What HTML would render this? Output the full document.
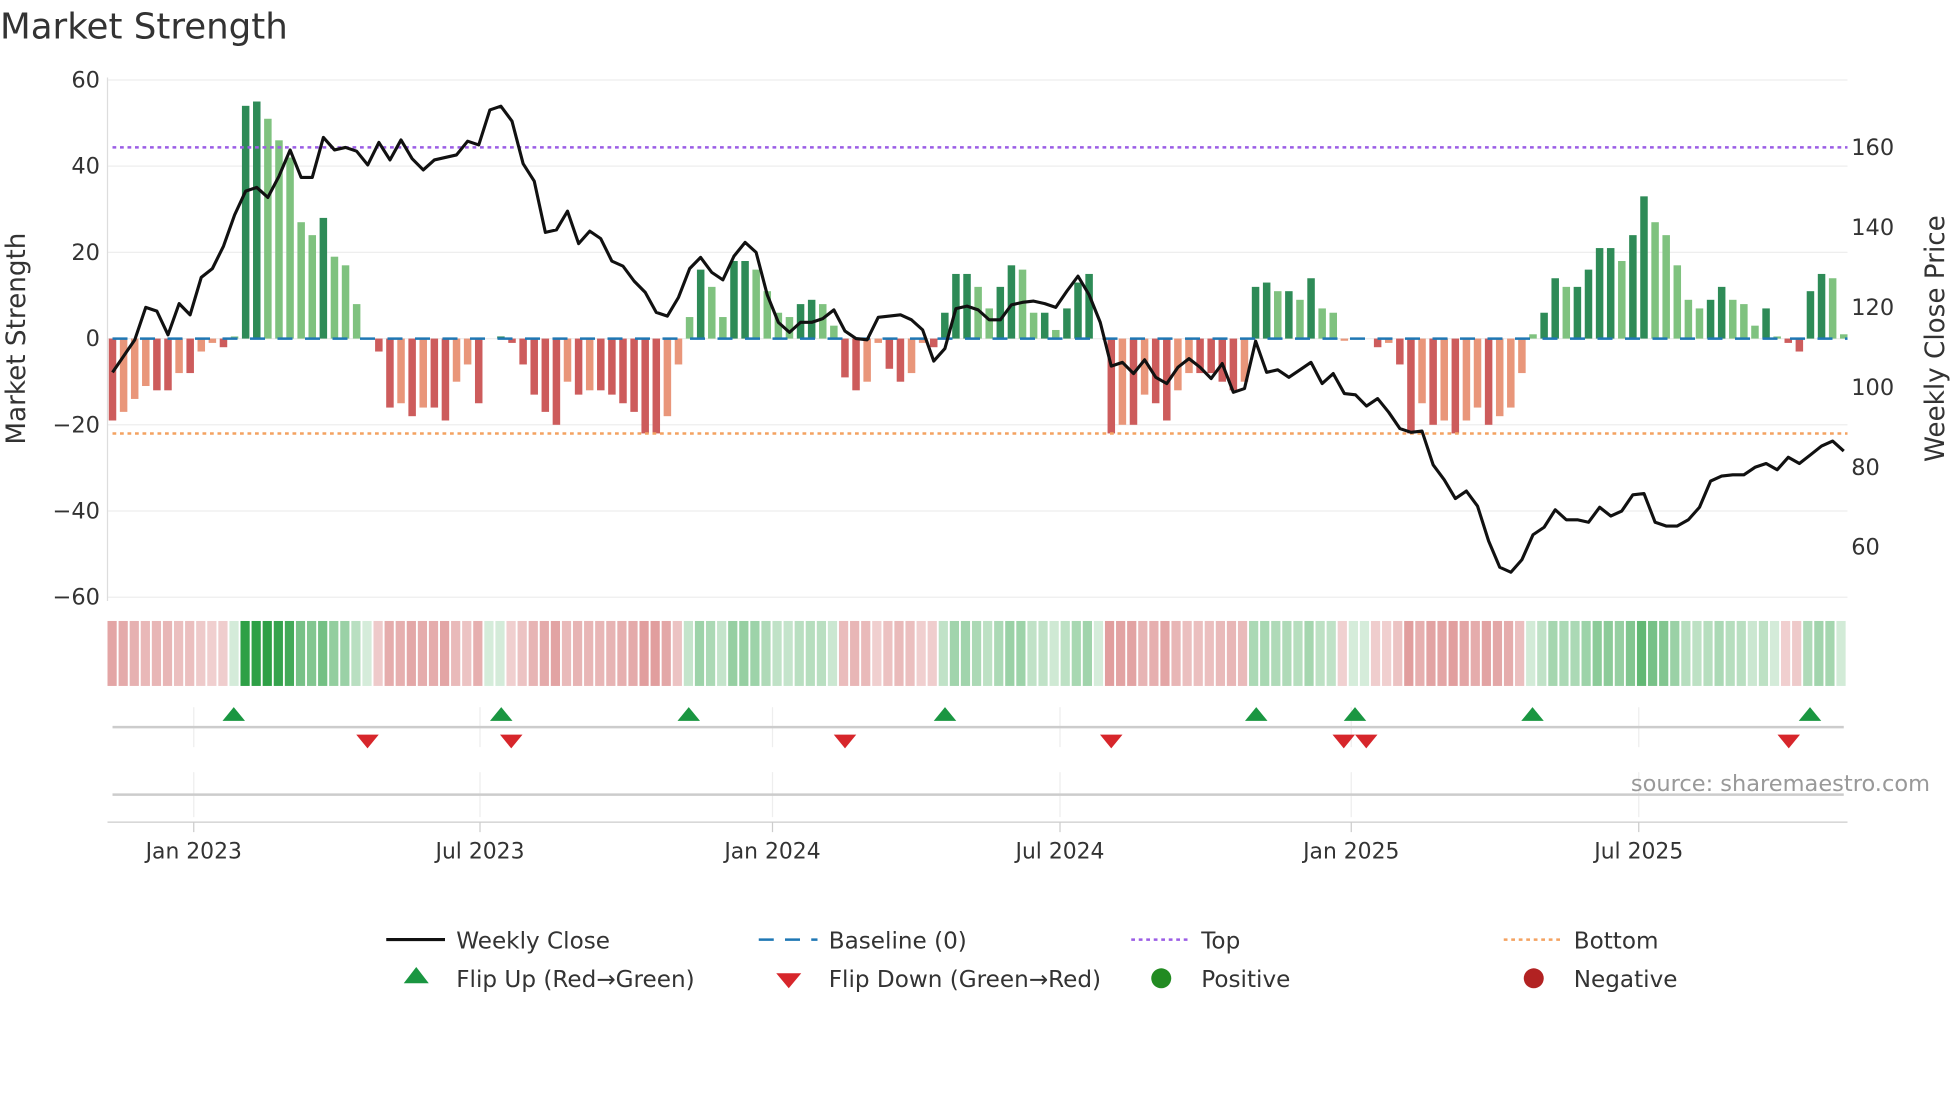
<!DOCTYPE html>
<html><head><meta charset="utf-8"><style>
html,body{margin:0;padding:0;background:#fff;width:1960px;height:1102px;overflow:hidden}
svg{display:block}
text{font-family:"DejaVu Sans","Liberation Sans",sans-serif}
</style></head><body>
<svg id="s" width="1960" height="1102" viewBox="0 0 1568 882" preserveAspectRatio="none" xmlns="http://www.w3.org/2000/svg"></svg>
<script>
const V=[-19,-17,-14,-11,-12,-12,-8,-8,-3,-1,-2,0.5,54,55,51,46,42,27,24,28,19,17,8,0,-3,-16,-15,-18,-16,-16,-19,-10,-6,-15,0,0.5,-1,-6,-13,-17,-20,-10,-13,-12,-12,-13,-15,-17,-22,-22,-18,-6,5,16,12,5,18,18,16,11,6,5,8,9,8,3,-9,-12,-10,-1,-7,-10,-8,-1,-2,6,15,15,12,7,12,17,16,6,6,2,7,13,15,0,-22,-20,-20,-13,-15,-19,-12,-8,-8,-8,-10,-12,-10,12,13,11,11,9,14,7,6,-0.5,0,0,-2,-1,-6,-22,-15,-20,-19,-22,-19,-16,-20,-18,-16,-8,1,6,14,12,12,16,21,21,18,24,33,27,24,17,9,7,9,12,9,8,3,7,0.5,-1,-3,11,15,14,1];
const P=[298,285,272,246,249,268,243,252,222,215,197,172,153,150,158,141,120,142,142,110,120,118,121,132,114,128,112,127,136,128,126,124,113,116,88,85,97,131,145,186,184,169,195,185,191,209,213,225,234,250,253,238,215,206,218,224,205,194,202,236,258,266,258,258,255,248,265,271,272,254,253,252,256,264,289,279,247,245,248,256,256,244,242,241,243,246,233,221,236,258,293,290,299,288,302,307,294,287,294,303,291,314,311,273,298,296,302,296,290,307,299,315,316,325,319,330,343,346,345,372,384,399,393,405,433,454,458,448,428,422,408,416,416,418,406,413,409,396,395,418,421,421,416,406,385,381,380,380,374,371,376,366,371,364,357,353,361];
const n=V.length, x0=90, st=(1475-90)/(n-1);
let h='';
const T=(x,y,t,o)=>`<text x="${x}" y="${y}" ${o||''}>${t}</text>`;
h+=T(0,31,'Market Strength','font-size="28.5" fill="#333"');
[60,40,20,0,-20,-40,-60].forEach(v=>{const y=271-v*3.45;h+=`<line x1="86" x2="1478" y1="${y}" y2="${y}" stroke="#eee" stroke-width="1"/>`;h+=T(80,y+6,v<0?'−'+(-v):v,'font-size="18" fill="#333" text-anchor="end"');});
[160,140,120,100,80,60].forEach(v=>{const y=118+(160-v)*3.2;h+=T(1481,y+6,v,'font-size="18" fill="#333"');});
h+=`<line x1="86" x2="86" y1="62" y2="481" stroke="#ddd"/>`;
h+=T(0,0,'Market Strength','font-size="21" fill="#333" text-anchor="middle" transform="translate(20,271) rotate(-90)"');
h+=T(0,0,'Weekly Close Price','font-size="21" fill="#333" text-anchor="middle" transform="translate(1555,271) rotate(-90)"');
for(let i=0;i<n;i++){const v=V[i],p=i?Math.abs(V[i-1]):0,dk=Math.abs(v)>=p;const x=x0+i*st-3;
let c=v>=0?(dk?'#2e8b57':'#7fc27f'):(dk?'#cd5c5c':'#e9967a');
const y=v>=0?271-v*3.45:271;h+=`<rect x="${x}" y="${y}" width="6" height="${Math.abs(v)*3.45}" fill="${c}"/>`;
const a=Math.min(1,0.2+Math.abs(v)/60);const hc=v>=0?`rgba(46,160,70,${a})`:`rgba(200,80,80,${a*0.8+0.1})`;
h+=`<rect x="${86+i*(1392/n)}" y="497" width="${1392/n-1.5}" height="52" fill="${hc}"/>`;}
h+=`<line x1="90" x2="1478" y1="271" y2="271" stroke="#1f77b4" stroke-width="2" stroke-dasharray="12,10"/>`;
h+=`<line x1="90" x2="1478" y1="118" y2="118" stroke="#9b5de5" stroke-width="2" stroke-dasharray="3,3"/>`;
h+=`<line x1="90" x2="1478" y1="347" y2="347" stroke="#f4a261" stroke-width="2" stroke-dasharray="3,3"/>`;
h+=`<polyline fill="none" stroke="#111" stroke-width="2.5" stroke-linejoin="round" points="${P.map((y,i)=>(x0+i*st).toFixed(1)+','+y).join(' ')}"/>`;
const mx=[[155,'Jan 2023'],[384,'Jul 2023'],[618,'Jan 2024'],[848,'Jul 2024'],[1081,'Jan 2025'],[1311,'Jul 2025']];
mx.forEach(([x,t])=>{h+=`<line x1="${x}" x2="${x}" y1="566" y2="598" stroke="#eee"/><line x1="${x}" x2="${x}" y1="618" y2="654" stroke="#eee"/><line x1="${x}" x2="${x}" y1="658" y2="666" stroke="#ccc"/>`;h+=T(x,687,t,'font-size="17.5" fill="#333" text-anchor="middle"');});
h+=`<line x1="90" x2="1475" y1="582" y2="582" stroke="#ccc" stroke-width="2"/><line x1="90" x2="1475" y1="636" y2="636" stroke="#ccc" stroke-width="2"/><line x1="86" x2="1478" y1="658" y2="658" stroke="#ccc"/>`;
[187,401,551,756,1005,1084,1226,1448].forEach(x=>h+=`<polygon points="${x-9},577 ${x+9},577 ${x},566" fill="#1a9641"/>`);
[294,409,676,889,1075,1093,1431].forEach(x=>h+=`<polygon points="${x-9},588 ${x+9},588 ${x},599" fill="#d7262b"/>`);
h+=T(1544,633,'source: sharemaestro.com','font-size="18" fill="#999" text-anchor="end"');
const L='font-size="18.5" fill="#333"';
h+=`<line x1="309" x2="356" y1="752" y2="752" stroke="#111" stroke-width="2.5"/>`+T(365,759,'Weekly Close',L);
h+=`<line x1="607" x2="654" y1="752" y2="752" stroke="#1f77b4" stroke-width="2" stroke-dasharray="12,9"/>`+T(663,759,'Baseline (0)',L);
h+=`<line x1="905" x2="950" y1="752" y2="752" stroke="#9b5de5" stroke-width="2" stroke-dasharray="3,3"/>`+T(961,759,'Top',L);
h+=`<line x1="1203" x2="1248" y1="752" y2="752" stroke="#f4a261" stroke-width="2" stroke-dasharray="3,3"/>`+T(1259,759,'Bottom',L);
h+=`<polygon points="323,787 343,787 333,774" fill="#1a9641"/>`+T(365,790,'Flip Up (Red→Green)',L);
h+=`<polygon points="621,779 641,779 631,791" fill="#d7262b"/>`+T(663,790,'Flip Down (Green→Red)',L);
h+=`<circle cx="929" cy="783" r="8" fill="#228b22"/>`+T(961,790,'Positive',L);
h+=`<circle cx="1227" cy="783" r="8" fill="#b22222"/>`+T(1259,790,'Negative',L);
document.getElementById('s').innerHTML=h;
</script>
</body></html>
